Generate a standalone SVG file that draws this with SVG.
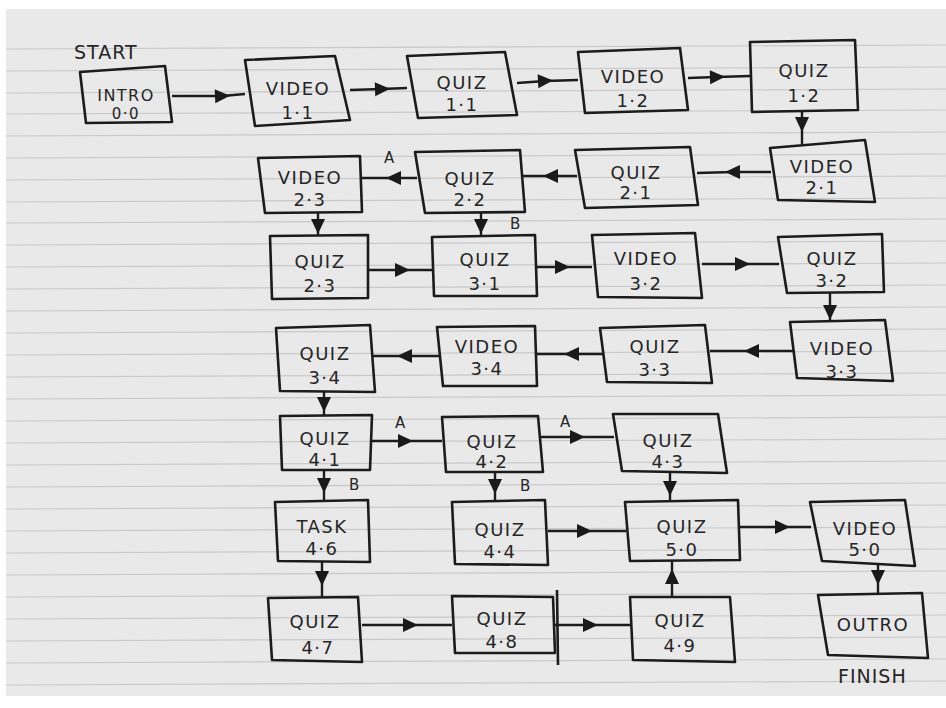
<svg xmlns="http://www.w3.org/2000/svg" width="946" height="708" viewBox="0 0 946 708">
<defs>
<marker id="ah" viewBox="0 0 16 16" refX="8" refY="8" markerWidth="16" markerHeight="16" markerUnits="userSpaceOnUse" orient="auto">
<path d="M1,1 L16,8 L1,15 Z" fill="#1a1a1a"/>
</marker>
</defs>
<style>
.paper{fill:#e9e9e9}
.rule{stroke:#c9c9c9;stroke-width:1.2}
.box{fill:none;stroke:#1c1c1c;stroke-width:2.6;stroke-linejoin:round}
.t{font-family:"DejaVu Sans","Liberation Sans",sans-serif;font-size:18px;fill:#262626;text-anchor:middle;letter-spacing:1.5px}
.lbl{font-family:"DejaVu Sans","Liberation Sans",sans-serif;font-size:15px;fill:#262626;letter-spacing:1px}
.big{font-size:19px}
.c{fill:none;stroke:#1c1c1c;stroke-width:2.4;marker-mid:url(#ah)}
</style>
<rect x="0" y="0" width="946" height="708" fill="#ffffff"/>
<rect class="paper" x="6" y="9" width="940" height="687"/>
<g id="paper-lines">
<line class="rule" x1="6" y1="49" x2="946" y2="45"/>
<line class="rule" x1="6" y1="71" x2="946" y2="67"/>
<line class="rule" x1="6" y1="93" x2="946" y2="89"/>
<line class="rule" x1="6" y1="114" x2="946" y2="110"/>
<line class="rule" x1="6" y1="136" x2="946" y2="132"/>
<line class="rule" x1="6" y1="158" x2="946" y2="154"/>
<line class="rule" x1="6" y1="180" x2="946" y2="176"/>
<line class="rule" x1="6" y1="202" x2="946" y2="198"/>
<line class="rule" x1="6" y1="223" x2="946" y2="219"/>
<line class="rule" x1="6" y1="245" x2="946" y2="241"/>
<line class="rule" x1="6" y1="267" x2="946" y2="263"/>
<line class="rule" x1="6" y1="289" x2="946" y2="285"/>
<line class="rule" x1="6" y1="311" x2="946" y2="307"/>
<line class="rule" x1="6" y1="333" x2="946" y2="329"/>
<line class="rule" x1="6" y1="355" x2="946" y2="351"/>
<line class="rule" x1="6" y1="377" x2="946" y2="373"/>
<line class="rule" x1="6" y1="399" x2="946" y2="395"/>
<line class="rule" x1="6" y1="421" x2="946" y2="417"/>
<line class="rule" x1="6" y1="443" x2="946" y2="439"/>
<line class="rule" x1="6" y1="465" x2="946" y2="461"/>
<line class="rule" x1="6" y1="487" x2="946" y2="483"/>
<line class="rule" x1="6" y1="509" x2="946" y2="505"/>
<line class="rule" x1="6" y1="531" x2="946" y2="527"/>
<line class="rule" x1="6" y1="553" x2="946" y2="549"/>
<line class="rule" x1="6" y1="575" x2="946" y2="571"/>
<line class="rule" x1="6" y1="597" x2="946" y2="593"/>
<line class="rule" x1="6" y1="619" x2="946" y2="615"/>
<line class="rule" x1="6" y1="641" x2="946" y2="637"/>
<line class="rule" x1="6" y1="663" x2="946" y2="659"/>
<line class="rule" x1="6" y1="685" x2="946" y2="681"/>
</g>
<g id="connectors">
<polyline class="c" points="172,96 222,96 245,94"/>
<polyline class="c" points="350,90 382,89 407,88"/>
<polyline class="c" points="517,83 545,81 578,80"/>
<polyline class="c" points="688,78 717,77 750,76"/>
<polyline class="c" points="802,111 802,124 802,144"/>
<polyline class="c" points="771,172 733,172 697,173"/>
<polyline class="c" points="577,176 551,176 523,176"/>
<polyline class="c" points="417,178 394,178 361,178"/>
<polyline class="c" points="318,213 318,226 318,236"/>
<polyline class="c" points="481,212 481,226 481,236"/>
<polyline class="c" points="368,270 402,270 432,270"/>
<polyline class="c" points="537,267 562,267 592,267"/>
<polyline class="c" points="702,264 742,264 779,264"/>
<polyline class="c" points="830,293 830,312 830,321"/>
<polyline class="c" points="793,351 752,351 710,351"/>
<polyline class="c" points="604,354 572,354 537,354"/>
<polyline class="c" points="440,356 405,356 373,356"/>
<polyline class="c" points="324,391 324,404 324,416"/>
<polyline class="c" points="371,441 405,441 442,441"/>
<polyline class="c" points="541,437 577,437 614,437"/>
<polyline class="c" points="324,470 324,485 324,501"/>
<polyline class="c" points="495,472 495,486 495,502"/>
<polyline class="c" points="670,472 670,488 670,502"/>
<polyline class="c" points="548,531 584,531 626,531"/>
<polyline class="c" points="739,527 782,527 811,527"/>
<polyline class="c" points="322,562 322,578 322,598"/>
<polyline class="c" points="878,563 878,577 878,595"/>
<polyline class="c" points="362,625 410,625 452,625"/>
<polyline class="c" points="555,625 590,625 630,625"/>
<polyline class="c" points="672,597 672,577 672,561"/>
<text class="lbl" x="384" y="163">A</text>
<text class="lbl" x="510" y="229">B</text>
<text class="lbl" x="395" y="428">A</text>
<text class="lbl" x="560" y="427">A</text>
<text class="lbl" x="349" y="490">B</text>
<text class="lbl" x="520" y="491">B</text>
</g>
<g id="start"><text class="lbl big" x="74" y="59">START</text></g>
<g id="finish"><text class="lbl big" x="838" y="683">FINISH</text></g>
<g id="intro"><polygon class="box" points="80,72 165,66 172,122 86,123"/><text class="t" x="126" y="101" style="font-size:16px">INTRO</text><text class="t" x="126" y="119" style="font-size:15px">0·0</text></g>
<g id="video-1-1"><polygon class="box" points="245,60 335,56 350,120 255,126"/><text class="t" x="298" y="95">VIDEO</text><text class="t" x="298" y="119">1·1</text></g>
<g id="quiz-1-1"><polygon class="box" points="407,56 505,52 517,115 418,118"/><text class="t" x="462" y="89">QUIZ</text><text class="t" x="462" y="111">1·1</text></g>
<g id="video-1-2"><polygon class="box" points="578,52 680,48 688,110 585,113"/><text class="t" x="633" y="83">VIDEO</text><text class="t" x="633" y="107">1·2</text></g>
<g id="quiz-1-2"><polygon class="box" points="750,42 855,40 858,110 752,112"/><text class="t" x="804" y="77">QUIZ</text><text class="t" x="804" y="102">1·2</text></g>
<g id="video-2-1"><polygon class="box" points="770,148 865,140 875,202 778,200"/><text class="t" x="822" y="173">VIDEO</text><text class="t" x="822" y="194">2·1</text></g>
<g id="quiz-2-1"><polygon class="box" points="575,150 690,147 698,205 585,208"/><text class="t" x="636" y="179">QUIZ</text><text class="t" x="636" y="199">2·1</text></g>
<g id="quiz-2-2"><polygon class="box" points="415,152 520,150 525,212 425,213"/><text class="t" x="470" y="185">QUIZ</text><text class="t" x="470" y="206">2·2</text></g>
<g id="video-2-3"><polygon class="box" points="258,158 360,156 362,212 265,213"/><text class="t" x="310" y="184">VIDEO</text><text class="t" x="310" y="206">2·3</text></g>
<g id="quiz-2-3"><polygon class="box" points="270,236 368,235 368,298 272,299"/><text class="t" x="320" y="268">QUIZ</text><text class="t" x="320" y="292">2·3</text></g>
<g id="quiz-3-1"><polygon class="box" points="432,237 535,235 537,296 434,296"/><text class="t" x="485" y="266">QUIZ</text><text class="t" x="485" y="290">3·1</text></g>
<g id="video-3-2"><polygon class="box" points="592,235 695,233 702,298 598,297"/><text class="t" x="646" y="265">VIDEO</text><text class="t" x="646" y="290">3·2</text></g>
<g id="quiz-3-2"><polygon class="box" points="778,237 882,234 884,292 787,293"/><text class="t" x="832" y="265">QUIZ</text><text class="t" x="832" y="287">3·2</text></g>
<g id="video-3-3"><polygon class="box" points="790,322 885,320 893,381 797,378"/><text class="t" x="842" y="355">VIDEO</text><text class="t" x="842" y="378">3·3</text></g>
<g id="quiz-3-3"><polygon class="box" points="600,328 705,325 712,383 607,382"/><text class="t" x="655" y="353">QUIZ</text><text class="t" x="655" y="376">3·3</text></g>
<g id="video-3-4"><polygon class="box" points="437,327 535,326 537,386 443,386"/><text class="t" x="487" y="353">VIDEO</text><text class="t" x="487" y="375">3·4</text></g>
<g id="quiz-3-4"><polygon class="box" points="276,328 370,325 375,392 280,391"/><text class="t" x="325" y="360">QUIZ</text><text class="t" x="325" y="384">3·4</text></g>
<g id="quiz-4-1"><polygon class="box" points="280,416 372,415 370,470 282,470"/><text class="t" x="325" y="445">QUIZ</text><text class="t" x="325" y="466">4·1</text></g>
<g id="quiz-4-2"><polygon class="box" points="442,417 538,416 543,472 446,472"/><text class="t" x="492" y="448">QUIZ</text><text class="t" x="492" y="468">4·2</text></g>
<g id="quiz-4-3"><polygon class="box" points="613,414 718,414 727,473 622,471"/><text class="t" x="668" y="447">QUIZ</text><text class="t" x="668" y="468">4·3</text></g>
<g id="task-4-6"><polygon class="box" points="275,502 368,500 370,562 278,561"/><text class="t" x="322" y="533">TASK</text><text class="t" x="322" y="555">4·6</text></g>
<g id="quiz-4-4"><polygon class="box" points="452,502 545,500 548,565 455,564"/><text class="t" x="500" y="536">QUIZ</text><text class="t" x="500" y="558">4·4</text></g>
<g id="quiz-5-0"><polygon class="box" points="625,502 738,500 740,560 630,561"/><text class="t" x="682" y="533">QUIZ</text><text class="t" x="682" y="556">5·0</text></g>
<g id="video-5-0"><polygon class="box" points="810,502 905,500 915,566 822,561"/><text class="t" x="865" y="535">VIDEO</text><text class="t" x="865" y="556">5·0</text></g>
<g id="quiz-4-7"><polygon class="box" points="268,598 358,597 362,662 272,660"/><text class="t" x="315" y="628">QUIZ</text><text class="t" x="318" y="654">4·7</text></g>
<g id="quiz-4-8"><polygon class="box" points="452,596 553,597 555,653 455,653"/><line class="box" x1="557" y1="590" x2="558" y2="665"/><text class="t" x="502" y="625">QUIZ</text><text class="t" x="502" y="648">4·8</text></g>
<g id="quiz-4-9"><polygon class="box" points="630,597 730,597 735,662 633,660"/><text class="t" x="680" y="627">QUIZ</text><text class="t" x="680" y="652">4·9</text></g>
<g id="outro"><polygon class="box" points="818,595 922,593 928,658 828,655"/><text class="t" x="873" y="631">OUTRO</text></g>
</svg>
